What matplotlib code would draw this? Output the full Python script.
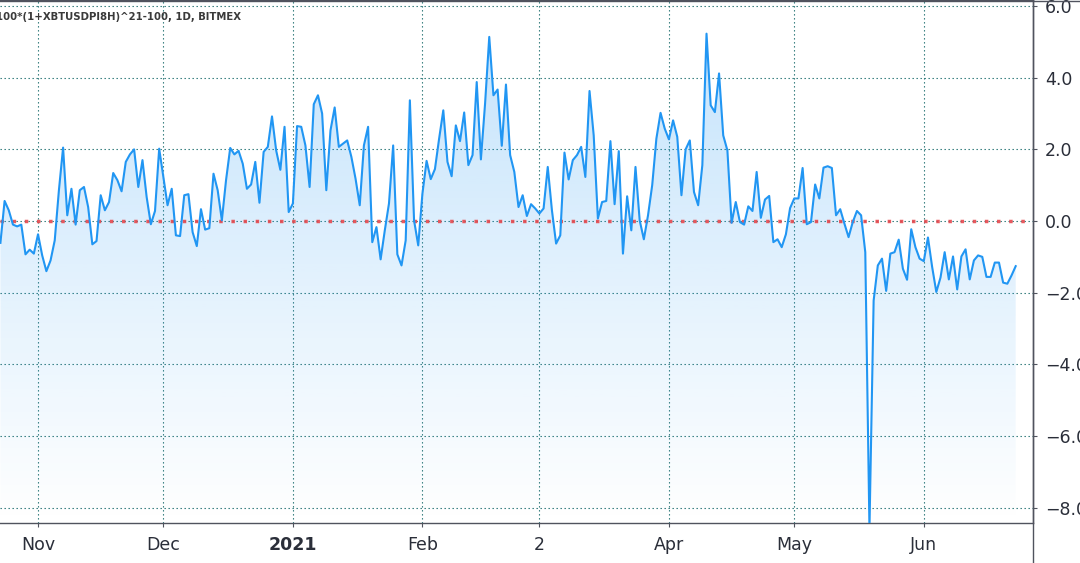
import numpy as np
import pandas as pd
import matplotlib
matplotlib.use("Agg")
import matplotlib.pyplot as plt
import matplotlib.dates as mdates
from matplotlib.lines import Line2D

# daily values (first bar = 2020-10-23)
start_date = "2020-10-23"
values = [
    -0.61, 0.56, 0.30, -0.10, -0.15, -0.10, -0.93, -0.80, -0.91, -0.37,
    -0.96, -1.40, -1.10, -0.54, 0.86, 2.05, 0.16, 0.90, -0.10, 0.86,
    0.95, 0.39, -0.65, -0.56, 0.72, 0.30, 0.53, 1.34, 1.14, 0.83,
    1.65, 1.86, 2.00, 0.95, 1.70, 0.67, -0.09, 0.28, 2.02, 1.23,
    0.44, 0.90, -0.40, -0.42, 0.72, 0.75, -0.31, -0.70, 0.33, -0.24,
    -0.20, 1.32, 0.86, 0.02, 1.14, 2.04, 1.86, 1.96, 1.60, 0.90,
    1.02, 1.65, 0.51, 1.93, 2.07, 2.92, 1.97, 1.43, 2.63, 0.25,
    0.49, 2.65, 2.63, 2.11, 0.95, 3.26, 3.51, 3.00, 0.86, 2.53,
    3.17, 2.07, 2.16, 2.25, 1.79, 1.18, 0.44, 2.11, 2.63, -0.59,
    -0.17, -1.07, -0.26, 0.49, 2.11, -0.93, -1.24, -0.54, 3.37, 0.02,
    -0.68, 0.76, 1.68, 1.17, 1.45, 2.30, 3.09, 1.65, 1.25, 2.67,
    2.23, 3.03, 1.56, 1.84, 3.88, 1.72, 3.28, 5.14, 3.51, 3.67,
    2.10, 3.81, 1.84, 1.37, 0.39, 0.72, 0.14, 0.47, 0.35, 0.21,
    0.35, 1.51, 0.30, -0.63, -0.40, 1.91, 1.16, 1.70, 1.84, 2.07,
    1.23, 3.63, 2.39, 0.07, 0.53, 0.56, 2.23, 0.47, 1.95, -0.91,
    0.69, -0.26, 1.51, 0.02, -0.51, 0.16, 1.00, 2.30, 3.02, 2.58,
    2.28, 2.81, 2.35, 0.72, 2.00, 2.25, 0.81, 0.44, 1.56, 5.23,
    3.23, 3.04, 4.12, 2.39, 1.97, -0.05, 0.53, -0.03, -0.10, 0.41,
    0.28, 1.37, 0.09, 0.60, 0.70, -0.59, -0.51, -0.73, -0.37, 0.36,
    0.63, 0.63, 1.48, -0.09, -0.03, 1.02, 0.63, 1.49, 1.53, 1.48,
    0.16, 0.33, -0.07, -0.45, -0.03, 0.28, 0.16, -0.87, -8.60, -2.22,
    -1.24, -1.05, -1.95, -0.91, -0.87, -0.52, -1.33, -1.64, -0.23, -0.73,
    -1.05, -1.12, -0.46, -1.28, -1.98, -1.58, -0.87, -1.63, -0.99, -1.91,
    -0.99, -0.79, -1.63, -1.10, -0.96, -1.00, -1.56, -1.56, -1.16, -1.16,
    -1.72, -1.75, -1.52, -1.26,
]
tick_dates = ["2020-11-01", "2020-12-01", "2021-01-01", "2021-02-01",
              "2021-03-01", "2021-04-01", "2021-05-01", "2021-06-01"]
tick_labels = ["Nov", "Dec", "2021", "Feb", "2", "Apr", "May", "Jun"]
y_ticks = [-8, -6, -4, -2, 0, 2, 4, 6]
title = "100*(1+XBTUSDPI8H)^21-100, 1D, BITMEX"

dates = pd.date_range(start_date, periods=len(values), freq="D")
x = mdates.date2num(dates)
xt = mdates.date2num(pd.to_datetime(tick_dates))
ymin, ymax = -8.43, 6.17
xmin = x[0] - 0.1
xmax = x[-1] + 4.07

W, H = 1080, 563
fig = plt.figure(figsize=(W / 100, H / 100), dpi=100)
ax = fig.add_axes([0, 40 / H, 1032.7 / W, 523 / H])

# gradient area under the line
poly = ax.fill_between(x, values, ymin, facecolor="none", edgecolor="none")
grad = np.zeros((256, 1, 4))
grad[..., 0] = 33 / 255
grad[..., 1] = 150 / 255
grad[..., 2] = 243 / 255
grad[:, 0, 3] = np.linspace(0.26, 0.0, 256)
im = ax.imshow(grad, extent=[x[0], x[-1], ymin, max(values)],
               aspect="auto", origin="upper", zorder=1)
im.set_clip_path(poly.get_paths()[0], transform=ax.transData)

ax.plot(x, values, color="#2196f3", lw=1.5, zorder=3)
ax.axhline(0, color="#e5484d", alpha=0.9, lw=2.5,
           linestyle=(0, (1, 2.5)), dash_capstyle="butt", zorder=2.5)

ax.set_xlim(xmin, xmax)
ax.set_ylim(ymin, ymax)

ax.set_xticks(xt)
ax.set_xticklabels(tick_labels)
ax.yaxis.tick_right()
ax.set_yticks(y_ticks)
ax.set_yticklabels([f"{v:.1f}".replace("-", "\u2212") for v in y_ticks])

ax.set_axisbelow(True)
ax.grid(True, color="#1e6e6e", lw=0.8, linestyle=(0, (1.2, 2.4)))

axis_col = "#50535e"
ax.spines["left"].set_visible(False)
for side in ["top", "right", "bottom"]:
    ax.spines[side].set_color(axis_col)
    ax.spines[side].set_linewidth(1.0)

ax.tick_params(axis="x", length=3, width=0.8, color=axis_col, pad=6.5,
               labelsize=12.5, labelcolor="#2a2e39")
ax.tick_params(axis="y", length=3, width=0.8, color=axis_col, pad=6,
               labelsize=12.5, labelcolor="#2a2e39")
for lbl in ax.get_xticklabels():
    if lbl.get_text() == "2021":
        lbl.set_fontweight("bold")

# price scale border down to the bottom, top border across
fig.add_artist(Line2D([1032.7 / W, 1032.7 / W], [0, 1], transform=fig.transFigure,
                      color=axis_col, lw=1.0))
fig.add_artist(Line2D([0, 1], [1 - 0.5 / H, 1 - 0.5 / H], transform=fig.transFigure,
                      color=axis_col, lw=1.0))

fig.text(241 / W, 1 - 17 / H, title, ha="right", va="center",
         fontsize=7.3, fontweight="bold", color="#3a3a3a")

fig.savefig("out.png", dpi=100)
